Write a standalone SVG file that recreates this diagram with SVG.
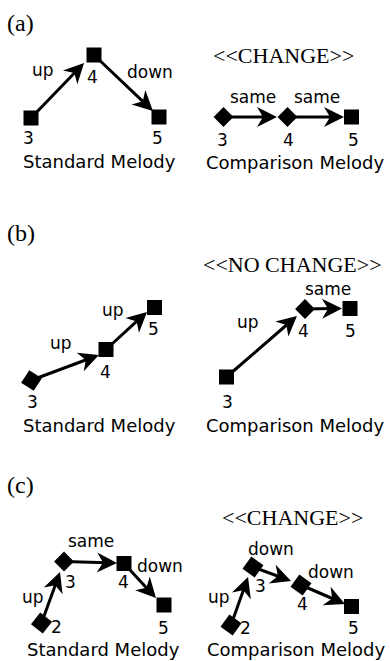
<svg xmlns="http://www.w3.org/2000/svg" width="390" height="661" viewBox="0 0 390 661">
<style>
.bg{fill:#fff}
.n{fill:#000}
.t{font-family:"DejaVu Sans",sans-serif;font-size:17px;fill:#000}
.m{font-family:"DejaVu Sans",sans-serif;font-size:18px;fill:#000}
.s{font-family:"Liberation Serif",serif;font-size:22px;fill:#000}
.p{font-family:"Liberation Serif",serif;font-size:24px;fill:#000}
.e{stroke:#000;stroke-width:3;fill:none;marker-end:url(#ah)}
</style>
<defs>
<marker id="ah" markerUnits="userSpaceOnUse" orient="auto" refX="0" refY="0" markerWidth="40" markerHeight="40" viewBox="-20 -20 40 40" overflow="visible">
<path d="M10,0 L-10,-10 L-4,0 L-10,10 Z" fill="#000"/>
</marker>
<rect id="sq" x="-7.5" y="-7.5" width="15" height="15"/>
<rect id="dm" x="-7" y="-7" width="14" height="14" transform="rotate(45)"/>
</defs>
<rect class="bg" x="0" y="0" width="390" height="661"/>

<!-- panel labels -->
<text class="p" x="7" y="31">(a)</text>
<text class="p" x="7" y="241">(b)</text>
<text class="p" x="7" y="493">(c)</text>
<text class="s" x="213" y="63">&lt;&lt;CHANGE&gt;&gt;</text>
<text class="s" x="203" y="272">&lt;&lt;NO CHANGE&gt;&gt;</text>
<text class="s" x="222" y="525">&lt;&lt;CHANGE&gt;&gt;</text>
<text class="m" x="23" y="168">Standard Melody</text>
<text class="m" x="206" y="169">Comparison Melody</text>
<text class="m" x="23" y="432">Standard Melody</text>
<text class="m" x="206" y="432">Comparison Melody</text>
<text class="m" x="27" y="656">Standard Melody</text>
<text class="m" x="207" y="656">Comparison Melody</text>

<g id="connectors">
<line class="e" x1="31" y1="118" x2="77.1" y2="70.2"/>
<line class="e" x1="94" y1="55" x2="145.7" y2="104.1"/>
<line class="e" x1="223.5" y1="117" x2="267" y2="117"/>
<line class="e" x1="287.5" y1="117" x2="334" y2="117"/>
<line class="e" x1="32" y1="380" x2="89.6" y2="358.5"/>
<line class="e" x1="106" y1="349.5" x2="139.6" y2="318.7"/>
<line class="e" x1="226.5" y1="377" x2="289.4" y2="322.5"/>
<line class="e" x1="305" y1="309" x2="332" y2="308.6"/>
<line class="e" x1="41.5" y1="623" x2="56.6" y2="581.4"/>
<line class="e" x1="64" y1="561.5" x2="107" y2="562.7"/>
<line class="e" x1="124" y1="563.5" x2="149.2" y2="590.7"/>
<line class="e" x1="231" y1="625" x2="244.7" y2="586.4"/>
<line class="e" x1="253" y1="567" x2="281.6" y2="577.5"/>
<line class="e" x1="301" y1="585" x2="335.8" y2="600"/>
<text class="t" x="32" y="76">up</text>
<text class="t" x="127" y="78">down</text>
<text class="t" x="230" y="103">same</text>
<text class="t" x="294" y="103">same</text>
<text class="t" x="50" y="349">up</text>
<text class="t" x="102" y="316">up</text>
<text class="t" x="237" y="328">up</text>
<text class="t" x="305" y="295">same</text>
<text class="t" x="22" y="603">up</text>
<text class="t" x="68" y="547">same</text>
<text class="t" x="137" y="572">down</text>
<text class="t" x="208" y="603">up</text>
<text class="t" x="248" y="555">down</text>
<text class="t" x="308" y="578">down</text>
</g>

<!-- (a) standard -->
<g id="a-s3"><use href="#sq" class="n" x="31" y="118"/><text class="t" x="23" y="144">3</text></g>
<g id="a-s4"><use href="#sq" class="n" x="94" y="55"/><text class="t" x="87" y="83">4</text></g>
<g id="a-s5"><use href="#sq" class="n" x="159" y="117"/><text class="t" x="152" y="144">5</text></g>
<!-- (a) comparison -->
<g id="a-c3"><use href="#dm" class="n" x="223.5" y="117"/><text class="t" x="217" y="146">3</text></g>
<g id="a-c4"><use href="#dm" class="n" x="287.5" y="117"/><text class="t" x="283" y="146">4</text></g>
<g id="a-c5"><use href="#sq" class="n" x="351.5" y="117"/><text class="t" x="348" y="146">5</text></g>

<!-- (b) standard -->
<g id="b-s3"><rect class="n" x="-7.5" y="-7.5" width="15" height="15" transform="translate(31.5 380.5) rotate(33)"/><text class="t" x="27" y="408">3</text></g>
<g id="b-s4"><use href="#sq" class="n" x="106" y="349.5"/><text class="t" x="100" y="378">4</text></g>
<g id="b-s5"><use href="#sq" class="n" x="154.5" y="307.5"/><text class="t" x="148" y="335">5</text></g>
<!-- (b) comparison -->
<g id="b-c3"><use href="#sq" class="n" x="226.5" y="377"/><text class="t" x="222" y="408">3</text></g>
<g id="b-c4"><use href="#dm" class="n" x="305" y="309"/><text class="t" x="298" y="337">4</text></g>
<g id="b-c5"><use href="#sq" class="n" x="350" y="308.5"/><text class="t" x="345" y="337">5</text></g>

<!-- (c) standard -->
<g id="c-s2"><rect class="n" x="-7.5" y="-7.5" width="15" height="15" transform="translate(41.5 623) rotate(38)"/><text class="t" x="51" y="633">2</text></g>
<g id="c-s3"><use href="#dm" class="n" x="64" y="561.5"/><text class="t" x="65" y="588">3</text></g>
<g id="c-s4"><use href="#sq" class="n" x="124" y="563.5"/><text class="t" x="118" y="588">4</text></g>
<g id="c-s5"><use href="#sq" class="n" x="164" y="605"/><text class="t" x="158" y="634">5</text></g>
<!-- (c) comparison -->
<g id="c-c2"><rect class="n" x="-7.5" y="-7.5" width="15" height="15" transform="translate(231 625) rotate(36)"/><text class="t" x="240" y="634">2</text></g>
<g id="c-c3"><rect class="n" x="-7.5" y="-7.5" width="15" height="15" transform="translate(253 567) rotate(36)"/><text class="t" x="255" y="592">3</text></g>
<g id="c-c4"><rect class="n" x="-7.5" y="-7.5" width="15" height="15" transform="translate(301 585) rotate(36)"/><text class="t" x="297" y="610">4</text></g>
<g id="c-c5"><use href="#sq" class="n" x="351.5" y="606.5"/><text class="t" x="348" y="634">5</text></g>
</svg>
